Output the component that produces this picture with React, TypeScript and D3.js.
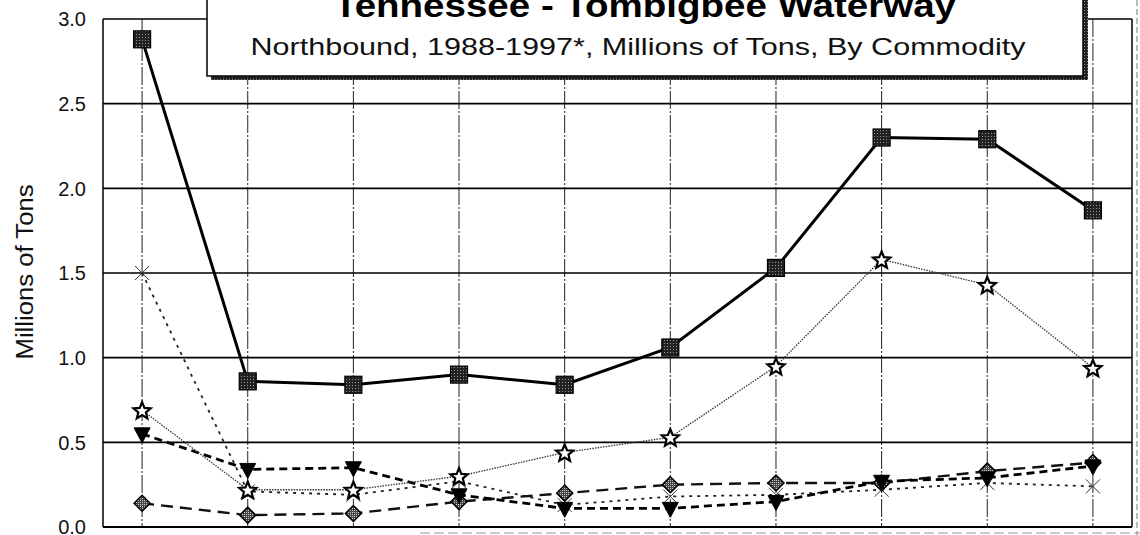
import React from "react";
import * as d3 from "d3";

const years = ["1988", "1989", "1990", "1991", "1992", "1993", "1994", "1995", "1996", "1997"];
const squareSeries = [2.88, 0.86, 0.84, 0.9, 0.84, 1.06, 1.53, 2.3, 2.29, 1.87];
const starSeries = [0.69, 0.22, 0.22, 0.3, 0.44, 0.53, 0.95, 1.58, 1.43, 0.94];
const triangleSeries = [0.55, 0.34, 0.35, 0.19, 0.11, 0.11, 0.15, 0.27, 0.29, 0.36];
const diamondSeries = [0.14, 0.07, 0.08, 0.15, 0.2, 0.25, 0.26, 0.26, 0.33, 0.38];
const crossSeries = [1.5, 0.21, 0.19, 0.27, 0.13, 0.18, 0.19, 0.22, 0.26, 0.24];
const yTicks = [0, 0.5, 1.0, 1.5, 2.0, 2.5, 3.0];

const titleText = "Tennessee - Tombigbee Waterway";
const subtitleText = "Northbound, 1988-1997*, Millions of Tons, By Commodity";
const yLabel = "Millions of Tons";

const W = 1140;
const H = 535;
const left = 103;
const right = 1132;
const top = 19;
const bottom = 527;

const font = "'Liberation Sans', Arial, Helvetica, sans-serif";

function starPath(cx: number, cy: number, R: number, r: number) {
  const pts: string[] = [];
  for (let i = 0; i < 10; i++) {
    const rad = i % 2 === 0 ? R : r;
    const a = -Math.PI / 2 + (i * Math.PI) / 5;
    pts.push(`${(cx + rad * Math.cos(a)).toFixed(2)},${(cy + rad * Math.sin(a)).toFixed(2)}`);
  }
  return "M" + pts.join("L") + "Z";
}

export default function App() {
  const x = d3.scalePoint<string>().domain(years).range([left, right]).padding(0.37);
  const y = d3.scaleLinear().domain([0, 3]).range([bottom, top]);
  const line = d3
    .line<number>()
    .x((_, i) => x(years[i]) as number)
    .y((d) => y(d));

  const px = (i: number) => x(years[i]) as number;

  return (
    <svg
      width={W}
      height={H}
      style={{ position: "absolute", left: 0, top: 0, background: "#fff" }}
    >
      <defs>
        <pattern id="tex" width="3" height="3" patternUnits="userSpaceOnUse">
          <rect width="3" height="3" fill="#222" />
          <rect x="1" y="1" width="1" height="1" fill="#999" />
        </pattern>
        <pattern id="tex2" width="2" height="2" patternUnits="userSpaceOnUse">
          <rect width="2" height="2" fill="#444" />
          <rect x="0" y="0" width="1" height="1" fill="#ccc" />
        </pattern>
      </defs>
      <rect x={0} y={0} width={W} height={H} fill="#fff" />

      {/* outer faint frame */}
      <line x1={1137} x2={1137} y1={0} y2={H} stroke="#777" strokeWidth={1} strokeDasharray="6 3" />
      <line x1={420} x2={W} y1={533} y2={533} stroke="#999" strokeWidth={1} strokeDasharray="10 4" />

      {/* vertical grid lines */}
      {years.map((yr) => (
        <line
          key={"v" + yr}
          x1={x(yr)}
          x2={x(yr)}
          y1={top}
          y2={bottom}
          stroke="#222"
          strokeWidth={1}
          strokeDasharray="18 2 2 2"
        />
      ))}

      {/* horizontal grid lines */}
      {yTicks.map((t) => (
        <line
          key={"h" + t}
          x1={left}
          x2={right}
          y1={y(t)}
          y2={y(t)}
          stroke="#000"
          strokeWidth={t === 0 ? 2 : 1.6}
        />
      ))}
      {/* plot frame */}
      <line x1={left} x2={left} y1={top} y2={bottom} stroke="#000" strokeWidth={1.5} />
      <line x1={right} x2={right} y1={top} y2={bottom} stroke="#000" strokeWidth={1.5} />

      {/* y tick labels */}
      {yTicks.map((t) => (
        <text
          key={"l" + t}
          x={86}
          y={y(t)}
          dy="0.36em"
          textAnchor="end"
          fontFamily={font}
          fontSize={20}
          fill="#111"
        >
          {t.toFixed(1)}
        </text>
      ))}

      {/* y axis title */}
      <text
        transform={`translate(33,272) rotate(-90)`}
        textAnchor="middle"
        fontFamily={font}
        fontSize={23}
        fill="#111"
        textLength={175}
        lengthAdjust="spacingAndGlyphs"
      >
        {yLabel}
      </text>

      {/* series lines */}
      <path d={line(crossSeries) || ""} fill="none" stroke="#222" strokeWidth={1.8} strokeDasharray="3 5" />
      <path d={line(diamondSeries) || ""} fill="none" stroke="#111" strokeWidth={2.4} strokeDasharray="12 7" />
      <path d={line(triangleSeries) || ""} fill="none" stroke="#000" strokeWidth={2.8} strokeDasharray="8 5" />
      <path d={line(starSeries) || ""} fill="none" stroke="#333" strokeWidth={1.3} strokeDasharray="1.5 1.2" />
      <path d={line(squareSeries) || ""} fill="none" stroke="#000" strokeWidth={3} />

      {/* cross markers */}
      {crossSeries.map((v, i) => (
        <g key={"x" + i} stroke="#333" strokeWidth={1}>
          <line x1={px(i) - 7} x2={px(i) + 7} y1={y(v) - 7} y2={y(v) + 7} />
          <line x1={px(i) - 7} x2={px(i) + 7} y1={y(v) + 7} y2={y(v) - 7} />
        </g>
      ))}

      {/* diamond markers */}
      {diamondSeries.map((v, i) => {
        const cx = px(i);
        const cy = y(v);
        const s = 8;
        return (
          <path
            key={"d" + i}
            d={`M${cx},${cy - s}L${cx + s},${cy}L${cx},${cy + s}L${cx - s},${cy}Z`}
            fill="url(#tex2)"
            stroke="#000"
            strokeWidth={1.5}
          />
        );
      })}

      {/* triangle markers */}
      {triangleSeries.map((v, i) => {
        const cx = px(i);
        const cy = y(v);
        return (
          <path
            key={"t" + i}
            d={`M${cx - 8},${cy - 6}L${cx + 8},${cy - 6}L${cx},${cy + 9}Z`}
            fill="#000"
            stroke="#000"
            strokeWidth={1}
          />
        );
      })}

      {/* star markers */}
      {starSeries.map((v, i) => (
        <path
          key={"s" + i}
          d={starPath(px(i), y(v) + 1, 9, 4)}
          fill="#fff"
          stroke="#000"
          strokeWidth={2.2}
          strokeLinejoin="miter"
        />
      ))}

      {/* square markers */}
      {squareSeries.map((v, i) => (
        <rect
          key={"q" + i}
          x={px(i) - 8.5}
          y={y(v) - 8.5}
          width={17}
          height={17}
          fill="url(#tex)"
          stroke="#000"
          strokeWidth={1.2}
        />
      ))}

      {/* title box with shadow */}
      <rect x={211} y={-6} width={877} height={86} fill="url(#tex)" />
      <rect x={207} y={-10} width={876} height={86} fill="#fff" stroke="#000" strokeWidth={1.5} />
      <text
        x={645}
        y={17}
        textAnchor="middle"
        fontFamily={font}
        fontWeight="bold"
        fontSize={34}
        fill="#000"
        textLength={622}
        lengthAdjust="spacingAndGlyphs"
      >
        {titleText}
      </text>
      <text
        x={638}
        y={55}
        textAnchor="middle"
        fontFamily={font}
        fontSize={24}
        fill="#111"
        textLength={775}
        lengthAdjust="spacingAndGlyphs"
      >
        {subtitleText}
      </text>
    </svg>
  );
}
